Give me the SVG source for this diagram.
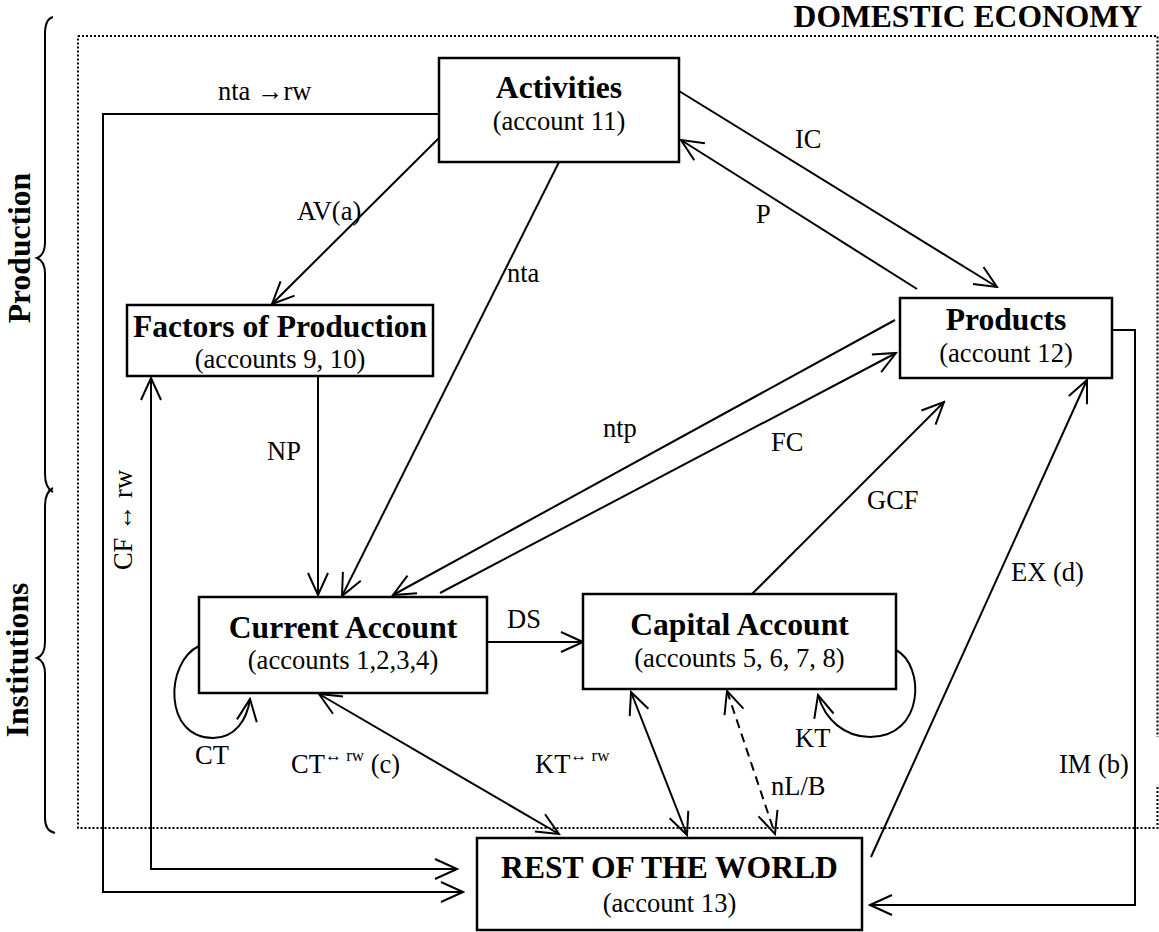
<svg xmlns="http://www.w3.org/2000/svg" width="1159" height="932" viewBox="0 0 1159 932">
  <style>
    text { font-family: "Liberation Serif", Tinos, "Times New Roman", Times, "DejaVu Serif", serif; fill: #000; }
    .box { fill: #fff; stroke: #000; stroke-width: 2.5; }
    .ttl { font-weight: bold; font-size: 31.6px; text-anchor: middle; }
    .sub { font-size: 26.6px; text-anchor: middle; }
    .lbl { font-size: 26.5px; }
    .sup { font-size: 17px; }
    .ln { fill: none; stroke: #000; stroke-width: 2; }
    .one { marker-end: url(#arr); }
    .two { marker-start: url(#arr); marker-end: url(#arr); }
    .dash { stroke-dasharray: 9 6; }
    .dot { fill: none; stroke: #000; stroke-width: 2; stroke-dasharray: 2 2; }
    .brace { fill: none; stroke: #000; stroke-width: 2; }
  </style>
  <defs>
    <marker id="arr" viewBox="-26 -13 28 26" refX="0" refY="0" markerWidth="28" markerHeight="26" markerUnits="userSpaceOnUse" orient="auto-start-reverse">
      <path d="M-22,-10 L0,0 L-22,10" fill="none" stroke="#000" stroke-width="2"/>
    </marker>
  </defs>

  <rect width="1159" height="932" fill="#fff"/>

  <!-- domestic economy boundary (right edge has a short break) -->
  <g id="domestic-economy">
    <path class="dot" d="M78,36 H1157.5 V737 M1157.5,787 V828 H78 V36"/>
    <text class="ttl" x="1142" y="27" style="text-anchor:end">DOMESTIC ECONOMY</text>
  </g>

  <!-- side braces -->
  <g id="brace-production">
    <path class="brace" d="M53,17 Q45,19 45,34 L45,242 Q45,255 37,258 Q45,261 45,274 L45,474 Q45,488 53,492"/>
    <text class="ttl" transform="translate(30,248) rotate(-90)">Production</text>
  </g>
  <g id="brace-institutions">
    <path class="brace" d="M53,488 Q45,492 45,506 L45,642 Q45,655 37,658 Q45,661 45,674 L45,818 Q45,831 55,833"/>
    <text class="ttl" transform="translate(28,660) rotate(-90)">Institutions</text>
  </g>

  <!-- connectors -->
  <g id="connectors">
    <polyline class="ln one" points="439,114 103,114 103,892 463,892"/>
    <line class="ln one" x1="439" y1="138" x2="272" y2="304"/>
    <line class="ln one" x1="559" y1="162" x2="342" y2="596"/>
    <line class="ln one" x1="679" y1="91" x2="997" y2="287"/>
    <line class="ln one" x1="917" y1="289" x2="681" y2="140"/>
    <polyline class="ln two" points="151,378 151,869 457,869"/>
    <line class="ln one" x1="318" y1="376" x2="318" y2="595"/>
    <line class="ln one" x1="895" y1="320" x2="393" y2="595"/>
    <line class="ln one" x1="440" y1="593" x2="896" y2="353"/>
    <line class="ln one" x1="752" y1="594" x2="944" y2="402"/>
    <line class="ln one" x1="871" y1="857" x2="1087" y2="380"/>
    <polyline class="ln one" points="1112,330 1135,330 1135,905 870,905"/>
    <line class="ln one" x1="487" y1="642" x2="583" y2="642"/>
    <line class="ln two" x1="319" y1="694" x2="559" y2="834"/>
    <line class="ln two" x1="631" y1="692" x2="687" y2="835"/>
    <line class="ln two dash" x1="727" y1="691" x2="775" y2="834"/>
    <path class="ln one" d="M199,646 C165,662 163,738 213,738 C235,738 247,720 250,699"/>
    <path class="ln one" d="M896,650 C925,665 925,737 870,737 C845,737 825,720 818,695"/>

    <text class="lbl" x="218" y="100">nta →rw</text>
    <text class="lbl" x="297" y="220">AV(a)</text>
    <text class="lbl" x="507" y="282">nta</text>
    <text class="lbl" x="795" y="148">IC</text>
    <text class="lbl" x="756" y="223">P</text>
    <text class="lbl" x="267" y="460">NP</text>
    <text class="lbl" x="603" y="437">ntp</text>
    <text class="lbl" x="771" y="451">FC</text>
    <text class="lbl" x="867" y="509">GCF</text>
    <text class="lbl" x="1011" y="581">EX (d)</text>
    <text class="lbl" x="507" y="628">DS</text>
    <text class="lbl" x="195" y="764">CT</text>
    <text class="lbl" x="291" y="773">CT<tspan class="sup" dy="-12">↔ rw</tspan><tspan dy="12"> (c)</tspan></text>
    <text class="lbl" x="535" y="773">KT<tspan class="sup" dy="-12">↔ rw</tspan></text>
    <text class="lbl" x="795" y="747">KT</text>
    <text class="lbl" x="771" y="795">nL/B</text>
    <text class="lbl" x="1059" y="773">IM (b)</text>
    <text class="lbl" transform="translate(132,520) rotate(-90)" text-anchor="middle">CF ↔ rw</text>
  </g>

  <!-- account nodes -->
  <g id="activities">
    <rect class="box" x="439" y="58" width="240" height="104"/>
    <text class="ttl" x="559" y="98">Activities</text>
    <text class="sub" x="559" y="130">(account 11)</text>
  </g>
  <g id="products">
    <rect class="box" x="900" y="298" width="212" height="80"/>
    <text class="ttl" x="1006" y="330">Products</text>
    <text class="sub" x="1006" y="362">(account 12)</text>
  </g>
  <g id="factors">
    <rect class="box" x="127" y="305" width="306" height="71"/>
    <text class="ttl" x="280" y="337">Factors of Production</text>
    <text class="sub" x="280" y="368">(accounts 9, 10)</text>
  </g>
  <g id="current-account">
    <rect class="box" x="199" y="597" width="288" height="96"/>
    <text class="ttl" x="343" y="638">Current Account</text>
    <text class="sub" x="343" y="669">(accounts 1,2,3,4)</text>
  </g>
  <g id="capital-account">
    <rect class="box" x="583" y="594" width="313" height="95"/>
    <text class="ttl" x="739.5" y="635">Capital Account</text>
    <text class="sub" x="739.5" y="667">(accounts 5, 6, 7, 8)</text>
  </g>
  <g id="rest-of-world">
    <rect class="box" x="477" y="838" width="385" height="92"/>
    <text class="ttl" x="669.5" y="878">REST OF THE WORLD</text>
    <text class="sub" x="669.5" y="912">(account 13)</text>
  </g>
</svg>
